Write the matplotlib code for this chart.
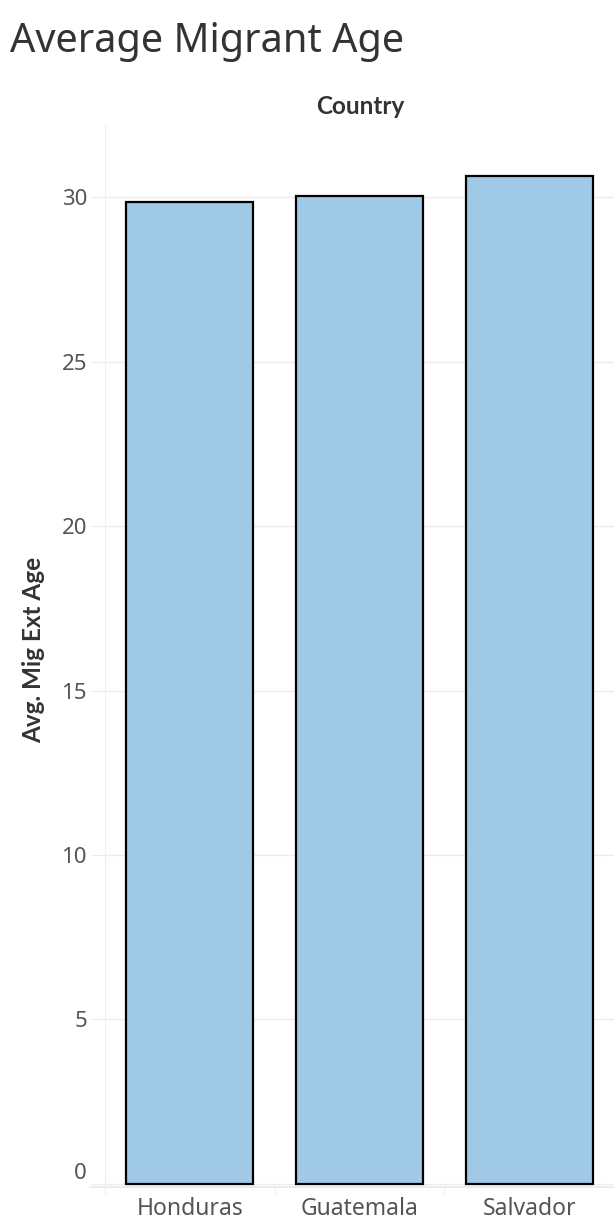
import matplotlib.pyplot as plt

countries = ["Honduras", "Guatemala", "Salvador"]
avg_age = [29.85, 30.03, 30.64]
y_ticks = [0, 5, 10, 15, 20, 25, 30]

plt.rcParams["font.family"] = ["Noto Sans", "DejaVu Sans"]
bold_font = ["Lato", "Liberation Sans", "DejaVu Sans"]

fig = plt.figure(figsize=(6.14, 12.26), dpi=100)
ax = fig.add_axes([105 / 614, 1 - 1187 / 1226, 1 - 105 / 614, (1187 - 125) / 1226])

x = range(len(countries))
ax.bar(x, avg_age, width=0.75, color="#a0c9e8", edgecolor="black", linewidth=1.6, zorder=3)

ax.set_xlim(-0.5, 2.5)
ax.set_ylim(-0.1, 32.2)
ax.set_yticks(y_ticks)
ax.set_yticklabels([str(t) for t in y_ticks])
ax.set_xticks(list(x))
ax.set_xticklabels(countries)
ax.set_xticks([-0.5, 0.5, 1.5], minor=True)

ax.grid(axis="y", color="#ececec", linewidth=1, zorder=0)
for side in ["top", "right", "bottom"]:
    ax.spines[side].set_visible(False)
ax.spines["left"].set_color("#f0f0f0")
ax.axhline(-0.1, color="#e8e8e8", linewidth=1.2, xmin=-0.03, clip_on=False, zorder=1)

ax.tick_params(axis="y", length=10, color="#ececec", pad=3, labelsize=16, labelcolor="#555555")
ax.tick_params(axis="x", which="major", length=0, pad=7, labelsize=16.5, labelcolor="#555555")
ax.tick_params(axis="x", which="minor", length=6, color="#e8e8e8")

# Tableau keeps the zero label above the baseline
zero_label = ax.get_yticklabels()[0]
zero_label.set_verticalalignment("bottom")
zero_label.set_y(0.4)

ax.set_ylabel("Avg. Mig Ext Age", fontsize=17.5, fontweight="bold", family=bold_font,
              color="#333333")
ax.yaxis.set_label_coords(-(105 - 45) / 509, (1187 - 650) / (1187 - 125))

fig.text(360 / 614, 1 - 107 / 1226, "Country", ha="center", va="center",
         fontsize=17.5, fontweight="bold", family=bold_font, color="#333333")
fig.text(10 / 614, 1 - 42 / 1226, "Average Migrant Age", ha="left", va="center",
         fontsize=28.6, color="#333333")

fig.savefig("out.png", dpi=100)
